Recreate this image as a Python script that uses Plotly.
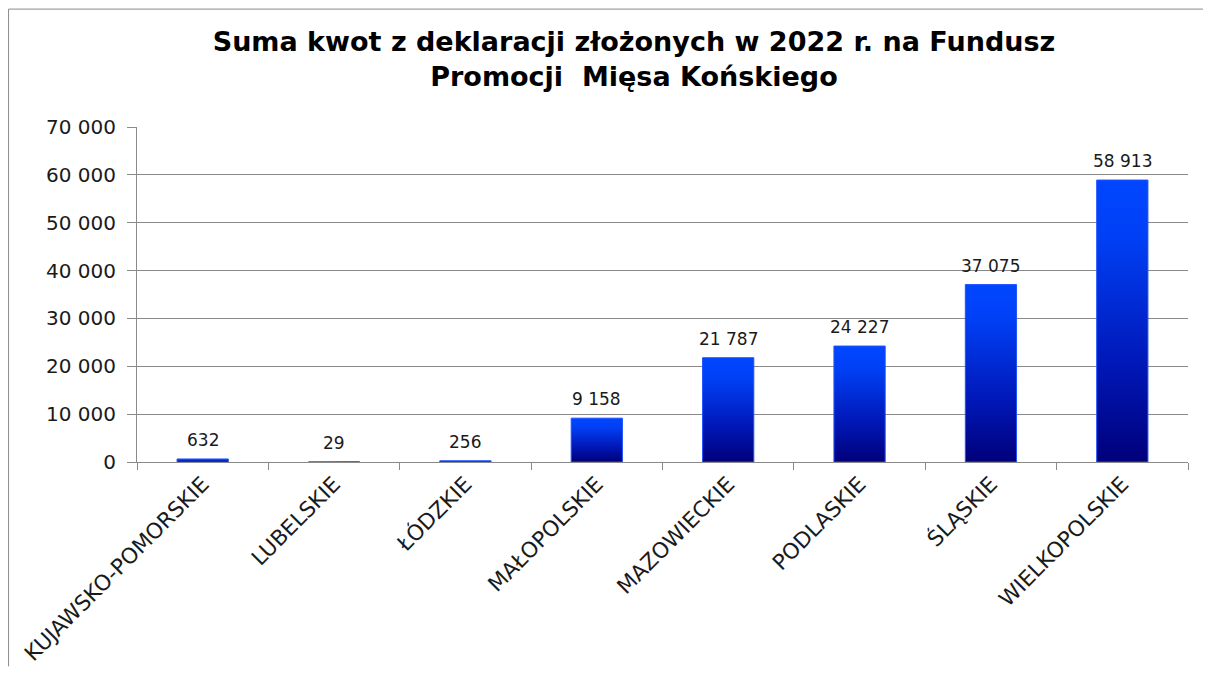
import plotly.graph_objects as go

categories = ["KUJAWSKO-POMORSKIE", "LUBELSKIE", "ŁÓDZKIE", "MAŁOPOLSKIE",
              "MAZOWIECKIE", "PODLASKIE", "ŚLĄSKIE", "WIELKOPOLSKIE"]
values = [632, 29, 256, 9158, 21787, 24227, 37075, 58913]
y_ticks = [0, 10000, 20000, 30000, 40000, 50000, 60000, 70000]
title_text = "Suma kwot z deklaracji złożonych w 2022 r. na Fundusz<br>Promocji  Mięsa Końskiego"

FONT = "DejaVu Sans"
half_w = 0.195
grad = [[0.0, "#00007a"], [0.35, "#0018b8"], [0.8, "#0040f5"], [1.0, "#0046ff"]]

fig = go.Figure()
for i, v in enumerate(values):
    fig.add_trace(go.Scatter(
        x=[i - half_w, i - half_w, i + half_w, i + half_w, i - half_w],
        y=[0, v, v, 0, 0],
        mode="lines",
        fill="toself",
        fillgradient=dict(type="vertical", colorscale=grad),
        line=dict(color="#1f52ff", width=1),
        hoverinfo="skip",
        showlegend=False,
    ))

for i, v in enumerate(values):
    fig.add_annotation(
        x=i, y=v, text=f"{v:,}".replace(",", " "),
        showarrow=False, yanchor="bottom", yshift=7,
        font=dict(family=FONT, size=17, color="#1a1a1a"),
    )

frame = dict(color="#8a8a8a", width=1)
fig.update_layout(
    width=1196, height=661,
    margin=dict(l=129, r=16, t=119, b=207),
    paper_bgcolor="white", plot_bgcolor="white",
    separators=", ",
    title=dict(
        text=title_text, x=0.5234, xanchor="center", xref="container",
        y=0.9357, yanchor="middle", yref="container",
        font=dict(family=FONT, size=27, color="black", weight="bold"),
    ),
    font=dict(family=FONT, color="#1a1a1a"),
    shapes=[
        dict(type="line", xref="paper", yref="paper",
             x0=-0.1222, x1=1.0143, y0=1.352, y1=1.352, line=frame, layer="below"),
        dict(type="line", xref="paper", yref="paper",
             x0=-0.1222, x1=-0.1222, y0=-0.61, y1=1.352, line=frame, layer="below"),
    ],
)

fig.update_xaxes(
    range=[-0.5, 7.5], automargin=False,
    tickmode="array", tickvals=list(range(len(categories))), ticktext=categories,
    tickangle=-45, ticks="",
    tickfont=dict(family=FONT, size=21.5, color="#1a1a1a"),
    showgrid=False, zeroline=False,
    showline=True, linecolor="#8a8a8a", linewidth=1,
    minor=dict(tick0=-0.5, dtick=1, ticks="outside", ticklen=7,
               tickcolor="#8a8a8a", showgrid=False),
    fixedrange=True,
)
fig.update_yaxes(
    range=[0, 70000], automargin=False, tickmode="array", tickvals=y_ticks,
    tickformat=",d",
    ticks="outside", ticklen=9, tickcolor="#8a8a8a",
    ticklabelstandoff=7,
    tickfont=dict(family=FONT, size=20, color="#1a1a1a"),
    showgrid=True, gridcolor="#8a8a8a", gridwidth=1,
    zeroline=False, showline=True, linecolor="#8a8a8a", linewidth=1,
    fixedrange=True,
)

fig.write_html("out.html")
